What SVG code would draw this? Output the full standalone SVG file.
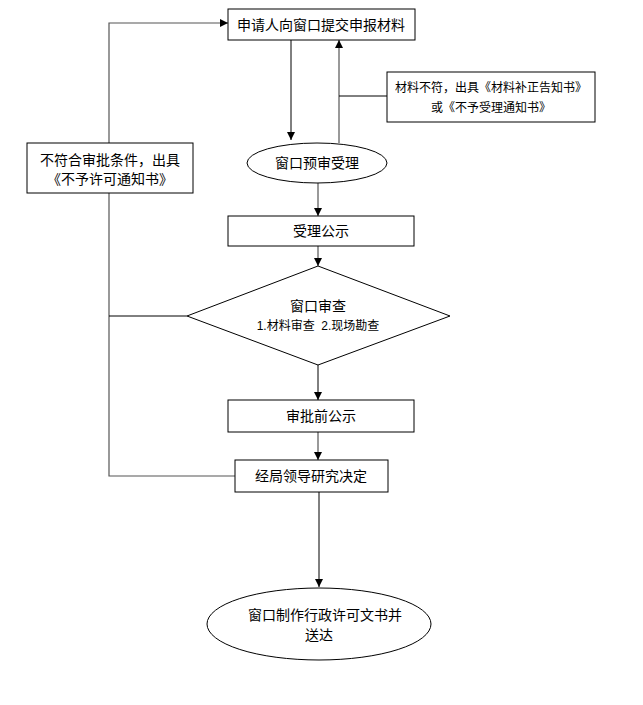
<svg xmlns="http://www.w3.org/2000/svg" width="643" height="705" viewBox="0 0 643 705">
<style>
.box{fill:#fff;stroke:#000;stroke-width:1}
.ln{fill:none;stroke:#000;stroke-width:1}
.gl{fill:none;stroke:#555;stroke-width:1.2}
text{font-family:"Liberation Sans","Noto Sans CJK SC",sans-serif;fill:#000;text-anchor:middle;dominant-baseline:central;white-space:pre}
.t14{font-size:14px}
.t12{font-size:12px}
</style>
<defs>
<marker id="ah" viewBox="0 0 10 10" refX="10" refY="5" markerWidth="8" markerHeight="8" markerUnits="userSpaceOnUse" orient="auto">
<path d="M0,0 L10,5 L0,10 z" fill="#000"/>
</marker>
</defs>
<rect width="643" height="705" fill="#fff"/>
<g id="connectors">
<polyline class="gl" points="235,476 109,476 109,23 228,23" marker-end="url(#ah)"/>
<line class="ln" x1="109" y1="316" x2="187" y2="316"/>
<line class="ln" x1="291" y1="40" x2="291" y2="140" marker-end="url(#ah)"/>
<line class="gl" x1="339" y1="143" x2="339" y2="40" marker-end="url(#ah)"/>
<line class="ln" x1="339" y1="96" x2="387" y2="96"/>
<line class="gl" x1="318" y1="183" x2="318" y2="216" marker-end="url(#ah)"/>
<line class="gl" x1="318" y1="246" x2="318" y2="266" marker-end="url(#ah)"/>
<line class="ln" x1="318" y1="365" x2="318" y2="400" marker-end="url(#ah)"/>
<line class="gl" x1="318" y1="432" x2="318" y2="460" marker-end="url(#ah)"/>
<line class="ln" x1="319" y1="492" x2="319" y2="587" marker-end="url(#ah)"/>
</g>
<g id="n1">
<rect class="box" x="228" y="9" width="187" height="31"/>
<text class="t14" x="321" y="24.5">申请人向窗口提交申报材料</text>
</g>
<g id="n2">
<rect class="box" x="387" y="72" width="208" height="50"/>
<text class="t12" x="491" y="88">材料不符，出具《材料补正告知书》</text>
<text class="t12" x="491" y="108">或《不予受理通知书》</text>
</g>
<g id="n3">
<rect class="box" x="27" y="143" width="166" height="50"/>
<text class="t14" x="110" y="160">不符合审批条件，出具</text>
<text class="t14" x="110" y="179">《不予许可通知书》</text>
</g>
<g id="n4">
<ellipse class="box" cx="317" cy="163" rx="70" ry="20"/>
<text class="t14" x="317" y="163">窗口预审受理</text>
</g>
<g id="n5">
<rect class="box" x="228" y="216" width="186" height="30"/>
<text class="t14" x="321" y="231">受理公示</text>
</g>
<g id="n6">
<polygon class="box" points="318,266 450,316 318,365 187,316"/>
<text class="t14" x="318" y="306">窗口审查</text>
<text class="t12" x="318" y="326">1.材料审查  2.现场勘查</text>
</g>
<g id="n7">
<rect class="box" x="228" y="400" width="186" height="32"/>
<text class="t14" x="321" y="416">审批前公示</text>
</g>
<g id="n8">
<rect class="box" x="235" y="460" width="153" height="32"/>
<text class="t14" x="311" y="476">经局领导研究决定</text>
</g>
<g id="n9">
<ellipse class="box" cx="319" cy="624" rx="112" ry="36"/>
<text class="t14" x="325" y="615">窗口制作行政许可文书并</text>
<text class="t14" x="319" y="635">送达</text>
</g>
</svg>
